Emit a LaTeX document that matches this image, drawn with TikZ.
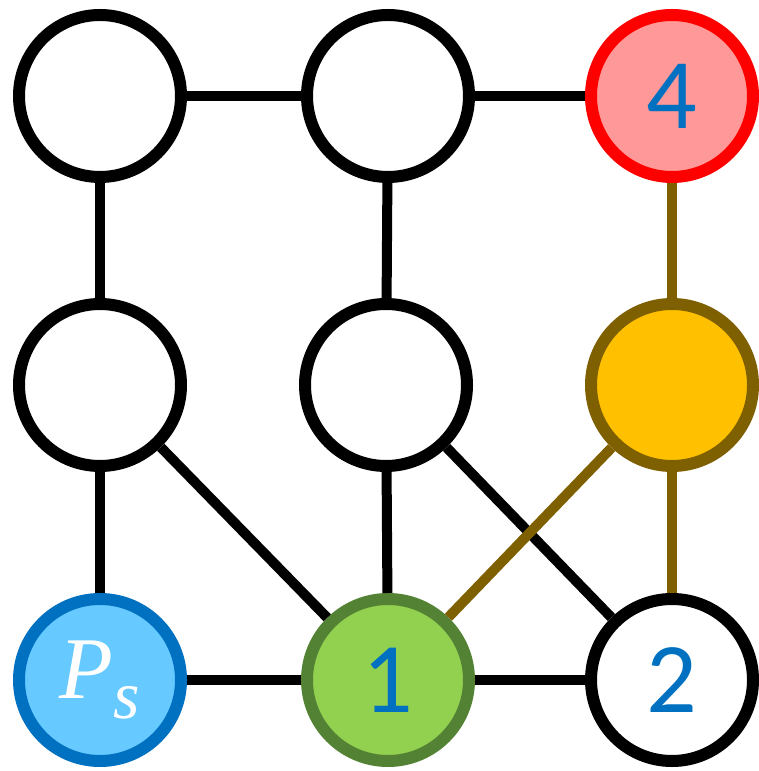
\documentclass[tikz,border=0pt]{standalone}
\usepackage{fontspec}
\setsansfont{Carlito}
\newfontfamily\srcfont{Liberation Serif}
\usepackage{tikz}
\usetikzlibrary{positioning}

\definecolor{numblue}{HTML}{0070C0}
\definecolor{skyfill}{HTML}{66C9FF}
\definecolor{greenfill}{HTML}{92D050}
\definecolor{greenline}{HTML}{548235}
\definecolor{pinkfill}{HTML}{FF9999}
\definecolor{goldfill}{HTML}{FFC000}
\definecolor{brownline}{HTML}{7F6000}

% source label, set in italic text so it scales
\newcommand{\srclabel}{\srcfont\itshape\fontsize{88}{88}\selectfont P\raisebox{-20pt}{\fontsize{68}{68}\selectfont s}}

\begin{document}
\begin{tikzpicture}[x=1pt, y=1pt,
    vertex/.style={circle, draw=black, fill=white, line width=12pt,
                   minimum size=162pt, inner sep=0pt,
                   font=\sffamily\fontsize{100}{100}\selectfont, text=numblue},
    edge/.style={line width=10pt},
    path edge/.style={line width=10pt, draw=brownline}
  ]
    \useasboundingbox (0,0) rectangle (758,771);

    % grid of vertices, rows from top to bottom
    \node[vertex] (a1) at (100,675) {};
    \node[vertex] (a2) at (388,675) {};
    \node[vertex, draw=red, fill=pinkfill] (a3) at (672,675) {4};
    \node[vertex] (b1) at (100,386) {};
    \node[vertex] (b2) at (386,386) {};
    \node[vertex, draw=brownline, fill=goldfill] (b3) at (672,386) {};
    \node[vertex, draw=numblue, fill=skyfill, text=white] (c1) at (100,91) {\srclabel};
    \node[vertex, draw=greenline, fill=greenfill] (c2) at (388,91) {1};
    \node[vertex] (c3) at (672,91) {2};

    % edges go behind the vertices
    \draw[edge] (a1) -- (a2);
    \draw[edge] (a2) -- (a3);
    \draw[edge] (a1) -- (b1);
    \draw[edge] (a2) -- (b2);
    \draw[edge] (b1) -- (c1);
    \draw[edge] (b1) -- (c2);
    \draw[edge] (b2) -- (c2);
    \draw[edge] (b2) -- (c3);
    \draw[edge] (c1) -- (c2);
    \draw[edge] (c2) -- (c3);
    \draw[path edge] (a3) -- (b3);
    \draw[path edge] (b3) -- (c2);
    \draw[path edge] (b3) -- (c3);
  \end{tikzpicture}
\end{document}
